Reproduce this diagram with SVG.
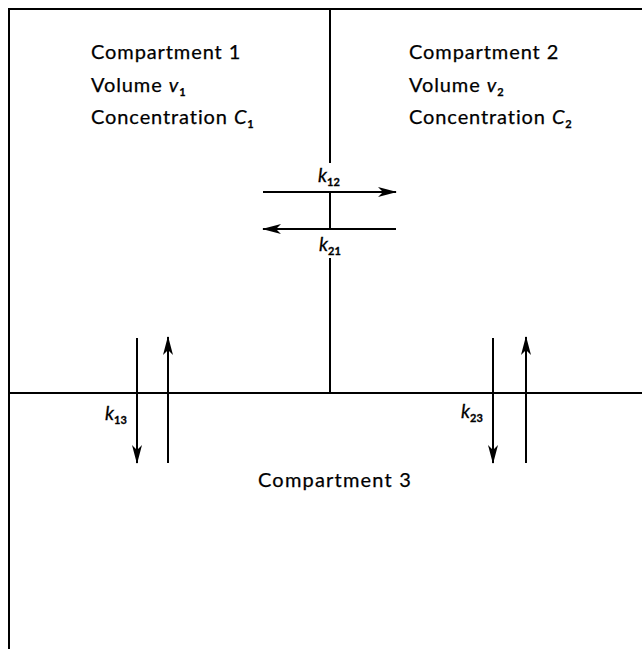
<svg xmlns="http://www.w3.org/2000/svg" width="642" height="649" viewBox="0 0 642 649">
<style>
.t{font-family:Lato,"Open Sans","Liberation Sans",sans-serif;font-size:20px;fill:#000;stroke:#000;stroke-width:0.25;letter-spacing:0.9px}
.k{font-family:Lato,"Open Sans","Liberation Sans",sans-serif;font-size:19px;font-style:italic;fill:#000;stroke:#000;stroke-width:0.3}
.s{font-size:11px;font-style:normal;font-weight:bold;letter-spacing:0}
.ln{stroke:#000;stroke-width:2;fill:none}
.ar{stroke:#000;stroke-width:2;fill:none;marker-end:url(#ah)}
</style>
<defs>
<marker id="ah" markerWidth="19" markerHeight="10" refX="18" refY="5" orient="auto" markerUnits="userSpaceOnUse">
<path d="M0,0 L19,5 L0,10 L5,5 Z" fill="#000"/>
</marker>
</defs>
<g id="walls">
<path class="ln" d="M9,649 V9 H642"/>
<path class="ln" d="M9,393 H642"/>
<path class="ln" d="M330,9 V163 M330,191 V230 M330,258 V393"/>
</g>
<g id="compartment1">
<text class="t" x="91" y="59">Compartment 1</text>
<text class="t" x="91" y="92">Volume <tspan font-style="italic">v</tspan><tspan class="s" dy="4">1</tspan></text>
<text class="t" x="91" y="124">Concentration <tspan font-style="italic">C</tspan><tspan class="s" dy="4">1</tspan></text>
</g>
<g id="compartment2">
<text class="t" x="409" y="59">Compartment 2</text>
<text class="t" x="409" y="92">Volume <tspan font-style="italic">v</tspan><tspan class="s" dy="4">2</tspan></text>
<text class="t" x="409" y="124">Concentration <tspan font-style="italic">C</tspan><tspan class="s" dy="4">2</tspan></text>
</g>
<g id="compartment3">
<text class="t" x="258" y="487" style="letter-spacing:1.2px">Compartment 3</text>
</g>
<g id="connectors">
<path class="ar" d="M263,192 H396"/>
<path class="ar" d="M396,229 H263"/>
<path class="ar" d="M137,338 V463"/>
<path class="ar" d="M168,463 V337"/>
<path class="ar" d="M493,338 V463"/>
<path class="ar" d="M526,463 V337"/>
</g>
<g id="labels">
<text class="k" x="318" y="182">k<tspan class="s" dy="4">12</tspan></text>
<text class="k" x="319" y="251">k<tspan class="s" dy="4">21</tspan></text>
<text class="k" x="105" y="420">k<tspan class="s" dy="4">13</tspan></text>
<text class="k" x="461" y="418">k<tspan class="s" dy="4">23</tspan></text>
</g>
</svg>
